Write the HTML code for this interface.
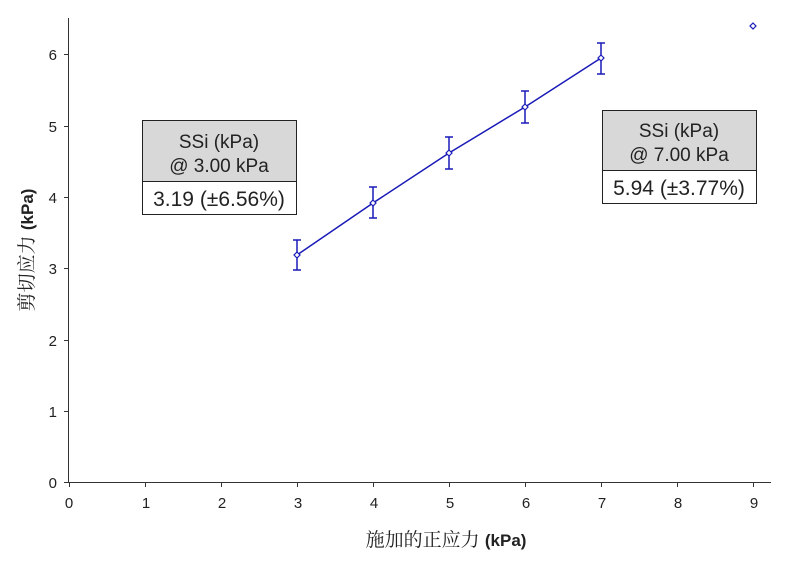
<!DOCTYPE html>
<html><head><meta charset="utf-8"><style>
body{margin:0;background:#fff;}
svg text{font-family:"Liberation Sans","Noto Sans CJK SC",sans-serif;}
</style></head><body>
<svg width="811" height="559" xmlns="http://www.w3.org/2000/svg">
<g stroke="#333" stroke-width="1" fill="none">
<line x1="68.5" y1="18" x2="68.5" y2="482"/>
<line x1="68" y1="482.5" x2="771" y2="482.5"/>
</g>
<g stroke="#333" stroke-width="1">
<line x1="64" y1="482.5" x2="68" y2="482.5"/>
<line x1="64" y1="411.5" x2="68" y2="411.5"/>
<line x1="64" y1="340.5" x2="68" y2="340.5"/>
<line x1="64" y1="268.5" x2="68" y2="268.5"/>
<line x1="64" y1="197.5" x2="68" y2="197.5"/>
<line x1="64" y1="126.5" x2="68" y2="126.5"/>
<line x1="64" y1="54.5" x2="68" y2="54.5"/>
<line x1="69.5" y1="482" x2="69.5" y2="487"/>
<line x1="145.5" y1="482" x2="145.5" y2="487"/>
<line x1="221.5" y1="482" x2="221.5" y2="487"/>
<line x1="297.5" y1="482" x2="297.5" y2="487"/>
<line x1="373.5" y1="482" x2="373.5" y2="487"/>
<line x1="449.5" y1="482" x2="449.5" y2="487"/>
<line x1="525.5" y1="482" x2="525.5" y2="487"/>
<line x1="601.5" y1="482" x2="601.5" y2="487"/>
<line x1="677.5" y1="482" x2="677.5" y2="487"/>
<line x1="753.5" y1="482" x2="753.5" y2="487"/>
</g>
<g font-size="15" fill="#222" text-anchor="end">
<text x="57" y="488">0</text><text x="57" y="417">1</text><text x="57" y="346">2</text>
<text x="57" y="274">3</text><text x="57" y="203">4</text><text x="57" y="132">5</text><text x="57" y="60">6</text>
</g>
<g font-size="15" fill="#222" text-anchor="middle">
<text x="69" y="508">0</text><text x="146" y="508">1</text><text x="222" y="508">2</text>
<text x="298" y="508">3</text><text x="374" y="508">4</text><text x="450" y="508">5</text>
<text x="526" y="508">6</text><text x="602" y="508">7</text><text x="678" y="508">8</text><text x="754" y="508">9</text>
</g>
<text x="446" y="546" text-anchor="middle" font-size="19" fill="#222"><tspan font-family="'Noto Serif CJK SC',serif">施加的正应力</tspan> <tspan font-weight="bold" font-size="17">(kPa)</tspan></text>
<text transform="translate(33,250) rotate(-90)" text-anchor="middle" font-size="19" fill="#222"><tspan font-family="'Noto Serif CJK SC',serif">剪切应力</tspan> <tspan font-weight="bold" font-size="17">(kPa)</tspan></text>
<g stroke="#1a1ab8" stroke-width="1.5" fill="none">
<polyline points="297,255 373,203 449,153 525,107 601,58"/>
<line x1="297" y1="240" x2="297" y2="270"/><line x1="293" y1="240" x2="301" y2="240"/><line x1="293" y1="270" x2="301" y2="270"/>
<line x1="373" y1="187" x2="373" y2="218"/><line x1="369" y1="187" x2="377" y2="187"/><line x1="369" y1="218" x2="377" y2="218"/>
<line x1="449" y1="137" x2="449" y2="169"/><line x1="445" y1="137" x2="453" y2="137"/><line x1="445" y1="169" x2="453" y2="169"/>
<line x1="525" y1="91" x2="525" y2="123"/><line x1="521" y1="91" x2="529" y2="91"/><line x1="521" y1="123" x2="529" y2="123"/>
<line x1="601" y1="43" x2="601" y2="74"/><line x1="597" y1="43" x2="605" y2="43"/><line x1="597" y1="74" x2="605" y2="74"/>
</g>
<g fill="#fff" stroke="#1a1ab8" stroke-width="1.2">
<polygon points="297,252 300,255 297,258 294,255"/>
<polygon points="373,200 376,203 373,206 370,203"/>
<polygon points="449,150 452,153 449,156 446,153"/>
<polygon points="525,104 528,107 525,110 522,107"/>
<polygon points="601,55 604,58 601,61 598,58"/>
<polygon points="753,23 756,26 753,29 750,26"/>
</g>
<g stroke="#222" stroke-width="1">
<rect x="142.5" y="120.5" width="154" height="61" fill="#d8d8d8"/>
<rect x="142.5" y="181.5" width="154" height="33" fill="#fff"/>
<rect x="602.5" y="110.5" width="154" height="60" fill="#d8d8d8"/>
<rect x="602.5" y="170.5" width="154" height="33" fill="#fff"/>
</g>
<g font-size="19" fill="#222" text-anchor="middle">
<text x="219" y="148">SSi (kPa)</text><text x="219" y="172">@ 3.00 kPa</text>
<text x="219" y="206" font-size="21">3.19 (±6.56%)</text>
<text x="679" y="137">SSi (kPa)</text><text x="679" y="161">@ 7.00 kPa</text>
<text x="679" y="195" font-size="21">5.94 (±3.77%)</text>
</g>
</svg>
</body></html>
